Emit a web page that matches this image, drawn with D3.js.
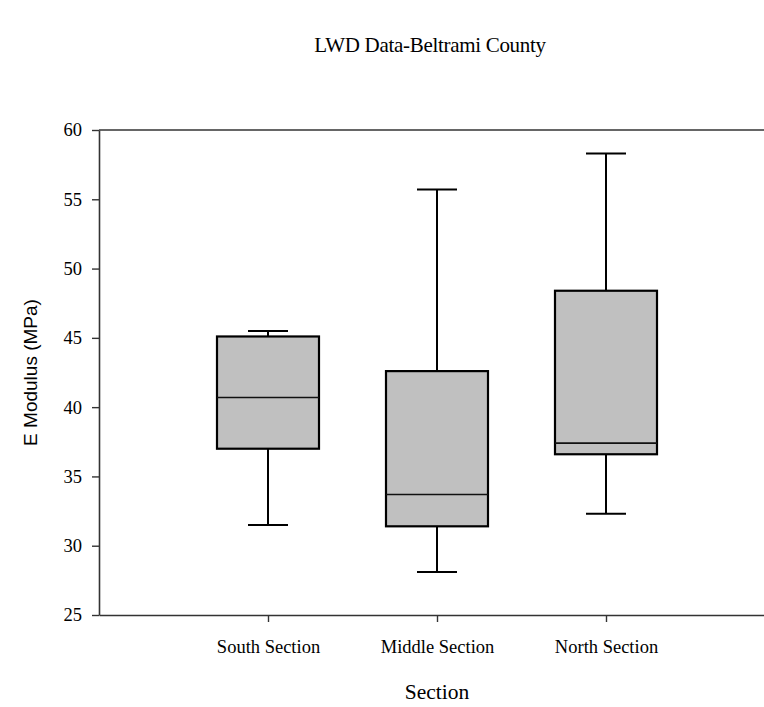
<!DOCTYPE html>
<html>
<head>
<meta charset="utf-8">
<script src="https://cdn.jsdelivr.net/npm/d3@7"></script>
<style>
  html, body { margin: 0; padding: 0; background: #fff; }
  svg { display: block; }
</style>
</head>
<body>
<svg id="chart" width="764" height="707"></svg>
<script>
// Box plot summary per section (E modulus, MPa)
const sections   = ["South Section", "Middle Section", "North Section"];
const whiskerLow = [31.5, 28.1, 32.3];
const q1         = [37.0, 31.4, 36.6];
const median     = [40.7, 33.7, 37.4];
const q3         = [45.1, 42.6, 48.4];
const whiskerHigh= [45.5, 55.7, 58.3];
const yTicks     = [25, 30, 35, 40, 45, 50, 55, 60];

const svg = d3.select("#chart");
const margin = { left: 99, top: 130, right: 775, bottom: 615 };

const x = d3.scalePoint().domain(sections).range([margin.left, margin.right]).padding(1);
const y = d3.scaleLinear().domain([25, 60]).range([margin.bottom, margin.top]);

const serif = "'Liberation Serif', 'Times New Roman', serif";
const sans = "'Liberation Sans', Arial, sans-serif";
const axisColor = "#333";

// Frame: top and bottom lines, left axis
svg.append("line").attr("x1", margin.left).attr("x2", margin.right)
  .attr("y1", y(60)).attr("y2", y(60)).attr("stroke", axisColor).attr("stroke-width", 1.6);

const yAxis = svg.append("g").attr("transform", `translate(${margin.left},0)`)
  .call(d3.axisLeft(y).tickValues(yTicks).tickSize(7).tickPadding(10).tickSizeOuter(0));
yAxis.select(".domain").attr("stroke", axisColor).attr("stroke-width", 1.6);
yAxis.selectAll(".tick line").attr("stroke", axisColor).attr("stroke-width", 1.4);
yAxis.selectAll(".tick text").attr("fill", "#000").style("font-family", serif).style("font-size", "18.5px");

const xAxis = svg.append("g").attr("transform", `translate(0,${margin.bottom})`)
  .call(d3.axisBottom(x).tickSize(7).tickPadding(18).tickSizeOuter(0));
xAxis.select(".domain").attr("stroke", axisColor).attr("stroke-width", 1.6);
xAxis.selectAll(".tick line").attr("stroke", axisColor).attr("stroke-width", 1.4);
xAxis.selectAll(".tick text").attr("fill", "#000").style("font-family", serif).style("font-size", "18.5px");

// Boxes
const boxW = 102, capW = 40;
const data = sections.map((s, i) => ({
  s, lo: whiskerLow[i], q1: q1[i], med: median[i], q3: q3[i], hi: whiskerHigh[i]
}));

const g = svg.append("g");
data.forEach(d => {
  const cx = x(d.s);
  // whiskers
  g.append("line").attr("x1", cx).attr("x2", cx).attr("y1", y(d.hi)).attr("y2", y(d.q3))
    .attr("stroke", "#000").attr("stroke-width", 2);
  g.append("line").attr("x1", cx).attr("x2", cx).attr("y1", y(d.q1)).attr("y2", y(d.lo))
    .attr("stroke", "#000").attr("stroke-width", 2);
  // caps
  [d.hi, d.lo].forEach(v => {
    g.append("line").attr("x1", cx - capW / 2).attr("x2", cx + capW / 2)
      .attr("y1", y(v)).attr("y2", y(v)).attr("stroke", "#000").attr("stroke-width", 2);
  });
  // box
  g.append("rect").attr("x", cx - boxW / 2).attr("width", boxW)
    .attr("y", y(d.q3)).attr("height", y(d.q1) - y(d.q3))
    .attr("fill", "#c0c0c0").attr("stroke", "#000").attr("stroke-width", 2.2);
  // median
  g.append("line").attr("x1", cx - boxW / 2).attr("x2", cx + boxW / 2)
    .attr("y1", y(d.med)).attr("y2", y(d.med)).attr("stroke", "#111").attr("stroke-width", 1.6);
});

// Titles
svg.append("text").attr("x", 430).attr("y", 52).attr("text-anchor", "middle")
  .style("font-family", serif).style("font-size", "21px").style("letter-spacing", "-0.3px")
  .text("LWD Data-Beltrami County");

svg.append("text").attr("x", 437).attr("y", 699).attr("text-anchor", "middle")
  .style("font-family", serif).style("font-size", "21.5px")
  .text("Section");

svg.append("text")
  .attr("transform", `translate(37,${(margin.top + margin.bottom) / 2}) rotate(-90)`)
  .attr("text-anchor", "middle")
  .style("font-family", sans).style("font-size", "19px")
  .text("E Modulus (MPa)");
</script>
</body>
</html>
